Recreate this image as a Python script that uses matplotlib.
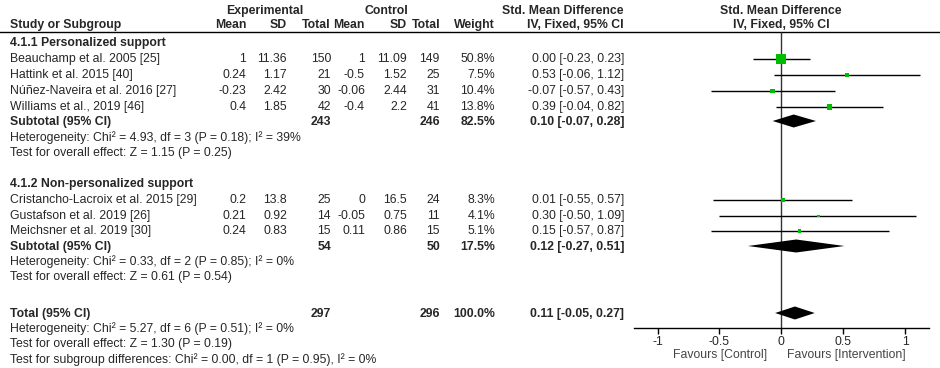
import numpy as np
import matplotlib
matplotlib.use('Agg')
import matplotlib.pyplot as plt

plt.rcParams['font.family'] = ['Liberation Sans', 'DejaVu Sans']

# study data
studies = ['Beauchamp et al. 2005 [25]', 'Hattink et al. 2015 [40]',
           'Núñez-Naveira et al. 2016 [27]', 'Williams et al., 2019 [46]',
           'Cristancho-Lacroix et al. 2015 [29]', 'Gustafson et al. 2019 [26]',
           'Meichsner et al. 2019 [30]']
group = [0, 0, 0, 0, 1, 1, 1]
exp_mean = [1, 0.24, -0.23, 0.4, 0.2, 0.21, 0.24]
exp_sd = [11.36, 1.17, 2.42, 1.85, 13.8, 0.92, 0.83]
exp_n = [150, 21, 30, 42, 25, 14, 15]
ctl_mean = [1, -0.5, -0.06, -0.4, 0, -0.05, 0.11]
ctl_sd = [11.09, 1.52, 2.44, 2.2, 16.5, 0.75, 0.86]
ctl_n = [149, 25, 31, 41, 24, 11, 15]
weight = [50.8, 7.5, 10.4, 13.8, 8.3, 4.1, 5.1]
smd = [0.00, 0.53, -0.07, 0.39, 0.01, 0.30, 0.15]
lo = [-0.23, -0.06, -0.57, -0.04, -0.55, -0.50, -0.57]
hi = [0.23, 1.12, 0.43, 0.82, 0.57, 1.09, 0.87]

# subgroup + total summaries
sum_labels = ['Subtotal (95% CI)', 'Subtotal (95% CI)', 'Total (95% CI)']
sum_exp_n = [243, 54, 297]
sum_ctl_n = [246, 50, 296]
sum_weight = [82.5, 17.5, 100.0]
sum_smd = [0.10, 0.12, 0.11]
sum_lo = [-0.07, -0.27, -0.05]
sum_hi = [0.28, 0.51, 0.27]

group_titles = ['4.1.1 Personalized support', '4.1.2 Non-personalized support']
sum_notes = [
    ['Heterogeneity: Chi² = 4.93, df = 3 (P = 0.18); I² = 39%',
     'Test for overall effect: Z = 1.15 (P = 0.25)'],
    ['Heterogeneity: Chi² = 0.33, df = 2 (P = 0.85); I² = 0%',
     'Test for overall effect: Z = 0.61 (P = 0.54)'],
    ['Heterogeneity: Chi² = 5.27, df = 6 (P = 0.51); I² = 0%',
     'Test for overall effect: Z = 1.30 (P = 0.19)',
     'Test for subgroup differences: Chi² = 0.00, df = 1 (P = 0.95), I² = 0%'],
]
ticks = [-1, -0.5, 0, 0.5, 1]
tick_labels = ['-1', '-0.5', '0', '0.5', '1']

# layout (pixel rows)
study_y = [59, 75, 91, 107, 200, 216, 231]
title_y = [43, 184]
sum_y = [122, 247, 314]
note_y = [[138, 153], [262, 277], [329, 344, 360]]
col_x = [246, 287, 331, 365, 407, 440, 495, 624]

W, H = 940, 368
fs = 8.8
tc = '#262626'

fig = plt.figure(figsize=(W / 100, H / 100), dpi=100)
tab = fig.add_axes([0, 0, 1, 1])
tab.set_xlim(0, W)
tab.set_ylim(H, 0)
tab.axis('off')

def txt(x, y, s, ha='left', bold=False, color=tc):
    tab.text(x, y, s, ha=ha, va='center', fontsize=fs, color=color,
             fontweight='bold' if bold else 'normal')

# header
txt(265, 11, 'Experimental', 'center', True)
txt(386, 11, 'Control', 'center', True)
txt(624, 11, 'Std. Mean Difference', 'right', True)
txt(781, 11, 'Std. Mean Difference', 'center', True)
txt(10, 25, 'Study or Subgroup', bold=True)
for x, s in zip(col_x, ['Mean', 'SD', 'Total', 'Mean', 'SD', 'Total', 'Weight',
                        'IV, Fixed, 95% CI']):
    txt(x, 25, s, 'right', True)
txt(781, 25, 'IV, Fixed, 95% CI', 'center', True)
tab.plot([0, W], [32, 32], color='black', lw=1)

for g, t in enumerate(group_titles):
    txt(10, title_y[g], t, bold=True)

for i in range(len(studies)):
    y = study_y[i]
    txt(10, y, studies[i])
    vals = ['{:g}'.format(exp_mean[i]), '{:g}'.format(exp_sd[i]), str(exp_n[i]),
            '{:g}'.format(ctl_mean[i]), '{:g}'.format(ctl_sd[i]), str(ctl_n[i]),
            '{:.1f}%'.format(weight[i]),
            '{:.2f} [{:.2f}, {:.2f}]'.format(smd[i], lo[i], hi[i])]
    for x, s in zip(col_x, vals):
        txt(x, y, s, 'right')

for k in range(3):
    y = sum_y[k]
    txt(10, y, sum_labels[k], bold=True)
    txt(col_x[2], y, str(sum_exp_n[k]), 'right', True)
    txt(col_x[5], y, str(sum_ctl_n[k]), 'right', True)
    txt(col_x[6], y, '{:.1f}%'.format(sum_weight[k]), 'right', True)
    txt(col_x[7], y, '{:.2f} [{:.2f}, {:.2f}]'.format(sum_smd[k], sum_lo[k], sum_hi[k]),
        'right', True)
    for s, ny in zip(sum_notes[k], note_y[k]):
        txt(10, ny, s)

txt(767, 355, 'Favours [Control]', 'right', color='#444444')
txt(787, 355, 'Favours [Intervention]', color='#444444')

# forest panel
ax = fig.add_axes([634 / W, (H - 328) / H, 295 / W, 328 / H])
ax.set_xlim(-1.19, 1.193)
ax.set_ylim(328, 0)
ax.patch.set_alpha(0)
for sp in ['top', 'left', 'right']:
    ax.spines[sp].set_visible(False)
ax.spines['bottom'].set_linewidth(1)
ax.set_yticks([])
ax.set_xticks(ticks)
ax.set_xticklabels(tick_labels)
ax.tick_params(axis='x', direction='out', length=4, width=1, labelsize=fs,
               labelcolor=tc, pad=2)

ax.vlines(0, 32, 328, color='#333333', lw=1)
ax.hlines(study_y, lo, hi, color='black', lw=1)
side = 10 * np.sqrt(np.array(weight) / max(weight))
ax.scatter(smd, study_y, marker='s', s=(side * 0.72) ** 2, color='#00BB00',
           linewidths=0, zorder=3)

for k in range(3):
    y = sum_y[k] - 1
    hh = 6.5
    ax.fill([sum_lo[k], sum_smd[k], sum_hi[k], sum_smd[k]],
            [y, y - hh, y, y + hh], color='black', lw=0, zorder=3)

fig.savefig('out.png', dpi=100)
